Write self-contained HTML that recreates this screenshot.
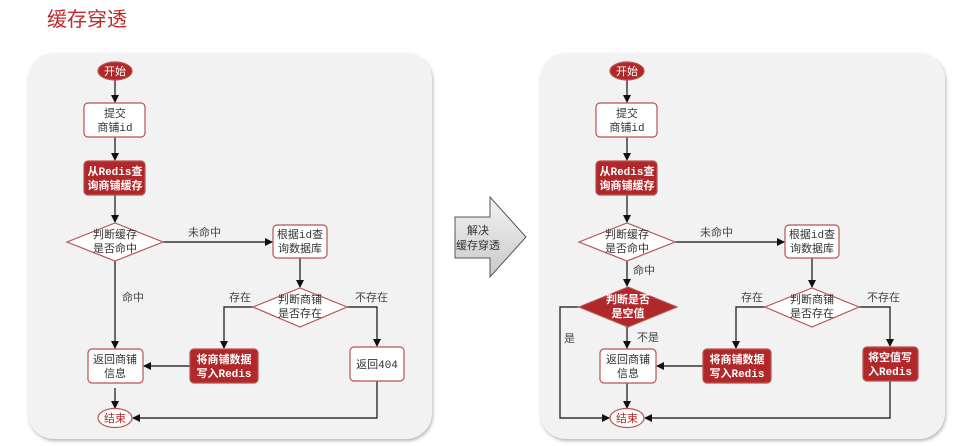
<!DOCTYPE html>
<html><head><meta charset="utf-8"><style>
html,body{margin:0;padding:0;background:#fff;width:964px;height:446px;overflow:hidden}
text{font-family:"Liberation Sans","Noto Sans CJK SC",sans-serif;font-size:11px}
.m{font-family:"Liberation Mono",monospace}
.w{fill:#333}.l{fill:#444}.r{fill:#fff}
</style></head><body>
<svg width="964" height="446" viewBox="0 0 964 446" xmlns="http://www.w3.org/2000/svg">
<defs>
<marker id="a" markerWidth="8" markerHeight="8" refX="7" refY="4" orient="auto" markerUnits="userSpaceOnUse"><path d="M0,0 L8,4 L0,8 z" fill="#111"/></marker>
<linearGradient id="g" x1="0" y1="0" x2="0" y2="1"><stop offset="0" stop-color="#f4f4f4"/><stop offset="1" stop-color="#c8c8c8"/></linearGradient>
<filter id="s" x="-5%" y="-5%" width="110%" height="110%"><feDropShadow dx="1" dy="2" stdDeviation="1.5" flood-color="#888" flood-opacity="0.6"/></filter>
</defs>
<text x="47" y="26" style="font-size:20px;fill:#c0282d">缓存穿透</text>
<rect x="28" y="53" width="404" height="386" rx="26" fill="#f2f2f2" filter="url(#s)"/>
<rect x="540" y="53" width="405" height="386" rx="26" fill="#f2f2f2" filter="url(#s)"/>
<path d="M455,217 L490,217 L490,197 L526,237 L490,277 L490,258 L455,258 Z" fill="url(#g)" stroke="#555" stroke-width="1"/>
<text x="478" y="234" text-anchor="middle" class="w">解决</text>
<text x="478" y="249" text-anchor="middle" class="w">缓存穿透</text>

<g stroke="#111" stroke-width="1.2" fill="none">
<line x1="115" y1="80" x2="115" y2="102" marker-end="url(#a)"/>
<line x1="115" y1="137" x2="115" y2="160" marker-end="url(#a)"/>
<line x1="115" y1="195" x2="115" y2="222" marker-end="url(#a)"/>
<line x1="163" y1="242" x2="272" y2="242" marker-end="url(#a)"/>
<line x1="115" y1="261" x2="115" y2="348" marker-end="url(#a)"/>
<line x1="300" y1="258" x2="300" y2="287" marker-end="url(#a)"/>
<polyline points="253,307 224,307 224,348" marker-end="url(#a)"/>
<polyline points="347,307 377,307 377,346" marker-end="url(#a)"/>
<line x1="190" y1="366" x2="144" y2="366" marker-end="url(#a)"/>
<line x1="115" y1="388" x2="115" y2="408" marker-end="url(#a)"/>
<polyline points="377,381 377,418 133,418" marker-end="url(#a)"/>
<line x1="627" y1="80" x2="627" y2="102" marker-end="url(#a)"/>
<line x1="627" y1="137" x2="627" y2="160" marker-end="url(#a)"/>
<line x1="627" y1="195" x2="627" y2="222" marker-end="url(#a)"/>
<line x1="675" y1="242" x2="784" y2="242" marker-end="url(#a)"/>
<line x1="627" y1="261" x2="627" y2="286" marker-end="url(#a)"/>
<line x1="627" y1="327" x2="627" y2="348" marker-end="url(#a)"/>
<line x1="812" y1="258" x2="812" y2="287" marker-end="url(#a)"/>
<polyline points="765,307 736,307 736,348" marker-end="url(#a)"/>
<polyline points="859,307 890,307 890,346" marker-end="url(#a)"/>
<line x1="703" y1="366" x2="657" y2="366" marker-end="url(#a)"/>
<line x1="627" y1="383" x2="627" y2="408" marker-end="url(#a)"/>
<polyline points="579,307 560,307 560,418 609,418" marker-end="url(#a)"/>
<polyline points="890,381 890,418 645,418" marker-end="url(#a)"/>
</g>

<g stroke="#b85450" stroke-width="1.2">
<ellipse cx="115" cy="71" rx="17" ry="9" fill="#b0282a"/>
<rect x="84" y="103" width="61" height="34" rx="4" fill="#fff"/>
<rect x="84" y="161" width="61" height="34" rx="4" fill="#b0282a"/>
<polygon points="67,242 115,223 163,242 115,261" fill="#fff"/>
<rect x="273" y="225" width="54" height="33" rx="4" fill="#fff"/>
<polygon points="253,307 300,288 347,307 300,327" fill="#fff"/>
<rect x="88" y="349" width="55" height="34" rx="4" fill="#fff"/>
<rect x="190" y="349" width="68" height="34" rx="4" fill="#b0282a"/>
<rect x="350" y="347" width="54" height="34" rx="4" fill="#fff"/>
<ellipse cx="115" cy="418" rx="17" ry="9.5" fill="#fff"/>
<ellipse cx="627" cy="71" rx="17" ry="9" fill="#b0282a"/>
<rect x="596" y="103" width="61" height="34" rx="4" fill="#fff"/>
<rect x="596" y="161" width="61" height="34" rx="4" fill="#b0282a"/>
<polygon points="579,242 627,223 675,242 627,261" fill="#fff"/>
<rect x="785" y="225" width="54" height="33" rx="4" fill="#fff"/>
<polygon points="765,307 812,288 859,307 812,327" fill="#fff"/>
<polygon points="579,307 628,287 677,307 628,327" fill="#b0282a"/>
<rect x="600" y="349" width="56" height="34" rx="4" fill="#fff"/>
<rect x="703" y="349" width="68" height="34" rx="4" fill="#b0282a"/>
<rect x="863" y="347" width="55" height="34" rx="4" fill="#b0282a"/>
<ellipse cx="627" cy="418" rx="17" ry="9.5" fill="#fff"/>
</g>

<g text-anchor="middle">
<text x="115" y="75" class="r">开始</text>
<text x="115" y="117" class="w">提交</text><text x="115" y="131" class="w">商铺<tspan class="m">id</tspan></text>
<text x="115" y="175" class="r" font-weight="bold">从<tspan class="m">Redis</tspan>查</text><text x="115" y="189" class="r" font-weight="bold">询商铺缓存</text>
<text x="115" y="238" class="w">判断缓存</text><text x="115" y="252" class="w">是否命中</text>
<text x="300" y="238" class="w">根据<tspan class="m">id</tspan>查</text><text x="300" y="252" class="w">询数据库</text>
<text x="300" y="303" class="w">判断商铺</text><text x="300" y="317" class="w">是否存在</text>
<text x="115" y="363" class="w">返回商铺</text><text x="115" y="377" class="w">信息</text>
<text x="224" y="363" class="r" font-weight="bold">将商铺数据</text><text x="224" y="377" class="r" font-weight="bold">写入<tspan class="m">Redis</tspan></text>
<text x="377" y="368" class="w">返回<tspan class="m">404</tspan></text>
<text x="115" y="422" style="fill:#b0282a">结束</text>

<text x="627" y="75" class="r">开始</text>
<text x="627" y="117" class="w">提交</text><text x="627" y="131" class="w">商铺<tspan class="m">id</tspan></text>
<text x="627" y="175" class="r" font-weight="bold">从<tspan class="m">Redis</tspan>查</text><text x="627" y="189" class="r" font-weight="bold">询商铺缓存</text>
<text x="627" y="238" class="w">判断缓存</text><text x="627" y="252" class="w">是否命中</text>
<text x="812" y="238" class="w">根据<tspan class="m">id</tspan>查</text><text x="812" y="252" class="w">询数据库</text>
<text x="812" y="303" class="w">判断商铺</text><text x="812" y="317" class="w">是否存在</text>
<text x="628" y="303" class="r" font-weight="bold">判断是否</text><text x="628" y="317" class="r" font-weight="bold">是空值</text>
<text x="628" y="363" class="w">返回商铺</text><text x="628" y="377" class="w">信息</text>
<text x="737" y="363" class="r" font-weight="bold">将商铺数据</text><text x="737" y="377" class="r" font-weight="bold">写入<tspan class="m">Redis</tspan></text>
<text x="890" y="361" class="r" font-weight="bold">将空值写</text><text x="890" y="375" class="r" font-weight="bold">入<tspan class="m">Redis</tspan></text>
<text x="627" y="422" style="fill:#b0282a">结束</text>
</g>
<g class="l">
<text x="188" y="236" class="l">未命中</text>
<text x="122" y="301" class="l">命中</text>
<text x="229" y="301" class="l">存在</text>
<text x="355" y="301" class="l">不存在</text>
<text x="700" y="236" class="l">未命中</text>
<text x="633" y="274" class="l">命中</text>
<text x="741" y="301" class="l">存在</text>
<text x="867" y="301" class="l">不存在</text>
<text x="564" y="342" class="l">是</text>
<text x="637" y="341" class="l">不是</text>
</g>
</svg>
</body></html>
